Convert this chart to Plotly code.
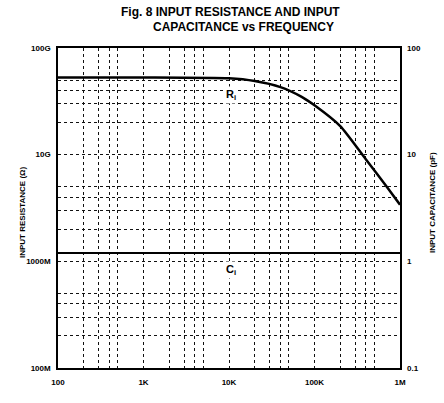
import plotly.graph_objects as go

# ---- data ----
freq_r = [100, 1000, 10000, 20000, 40000, 70000, 100000, 200000, 400000, 700000, 1000000]
r_in = [53e9, 53e9, 52e9, 49e9, 43e9, 35e9, 29e9, 18.5e9, 9e9, 5.0e9, 3.4e9]

freq_c = [100, 1000000]
c_in = [1.2, 1.2]

x_tick_vals = [100, 1000, 10000, 100000, 1000000]
x_tick_text = ["100", "1K", "10K", "100K", "1M"]
y_tick_vals = [1e8, 1e9, 1e10, 1e11]
y_tick_text = ["100M", "1000M", "10G", "100G"]
y2_tick_vals = [0.1, 1, 10, 100]
y2_tick_text = ["0.1", "1", "10", "100"]
minor_mults = [2, 3, 4, 5]

def minors(majors):
    return [m * k for m in majors[:-1] for k in minor_mults]

FONT = "Liberation Sans, Arial, sans-serif"
GRID = dict(gridcolor="#111", griddash="dot", gridwidth=1.2)

fig = go.Figure()
fig.add_trace(go.Scatter(x=freq_r, y=r_in, mode="lines", line=dict(color="black", width=2.5, shape="spline", smoothing=0.6),
                         showlegend=False, hoverinfo="skip"))
fig.add_trace(go.Scatter(x=freq_c, y=c_in, mode="lines", yaxis="y2", line=dict(color="black", width=2),
                         showlegend=False, hoverinfo="skip"))

axis_common = dict(showline=True, linecolor="black", linewidth=1.5, mirror=True, ticks="",
                   showgrid=True, zeroline=False, **GRID,
                   tickfont=dict(family=FONT, size=8, color="black", weight="bold"))

fig.update_layout(
    width=444, height=403,
    margin=dict(l=58, r=44, t=48, b=35),
    paper_bgcolor="white", plot_bgcolor="white",
    xaxis=dict(type="log", range=[2, 6], tickmode="array", tickvals=x_tick_vals, ticktext=x_tick_text,
               minor=dict(tickmode="array", tickvals=minors(x_tick_vals), showgrid=True, ticks="", **GRID),
               ticklabelstandoff=6, **axis_common),
    yaxis=dict(type="log", range=[8, 11], tickmode="array", tickvals=y_tick_vals, ticktext=y_tick_text,
               minor=dict(tickmode="array", tickvals=minors(y_tick_vals), showgrid=True, ticks="", **GRID),
               ticklabelstandoff=4, **axis_common),
    yaxis2=dict(type="log", range=[-1, 2], overlaying="y", side="right", tickmode="array",
                tickvals=y2_tick_vals, ticktext=y2_tick_text, showgrid=False, ticks="", zeroline=False,
                ticklabelstandoff=6,
                tickfont=dict(family=FONT, size=8, color="black", weight="bold")),
    annotations=[
        dict(text="Fig. 8 INPUT RESISTANCE AND INPUT", xref="paper", yref="paper",
             x=(230 - 58) / 342, y=(368 - 12) / 320, showarrow=False, xanchor="center", yanchor="middle",
             font=dict(family=FONT, size=12, color="black", weight="bold")),
        dict(text="CAPACITANCE vs FREQUENCY", xref="paper", yref="paper",
             x=(243 - 58) / 342, y=(368 - 27) / 320, showarrow=False, xanchor="center", yanchor="middle",
             font=dict(family=FONT, size=12, color="black", weight="bold")),
        dict(text="INPUT RESISTANCE (Ω)", xref="paper", yref="paper", textangle=-90,
             x=(22 - 58) / 342, y=(368 - 213) / 320, showarrow=False, xanchor="center", yanchor="middle",
             font=dict(family=FONT, size=8, color="black", weight="bold")),
        dict(text="INPUT CAPACITANCE (pF)", xref="paper", yref="paper", textangle=-90,
             x=(432 - 58) / 342, y=(368 - 203) / 320, showarrow=False, xanchor="center", yanchor="middle",
             font=dict(family=FONT, size=8, color="black", weight="bold")),
        dict(text="R<sub>i</sub>", x=4.02, y=10.56, xref="x", yref="y", showarrow=False, bgcolor="white",
             font=dict(family=FONT, size=11, color="black", weight="bold")),
        dict(text="C<sub>i</sub>", x=4.02, y=-0.08, xref="x", yref="y2", showarrow=False, bgcolor="white",
             font=dict(family=FONT, size=11, color="black", weight="bold")),
    ],
)

fig.write_html("out.html", config={"displayModeBar": False})

# remove default page margin so the figure sits at the window origin
with open("out.html", "r", encoding="utf-8") as f:
    html = f.read()
html = html.replace("<head>", "<head><style>html,body{margin:0;padding:0;overflow:hidden;}</style>", 1)
with open("out.html", "w", encoding="utf-8") as f:
    f.write(html)
